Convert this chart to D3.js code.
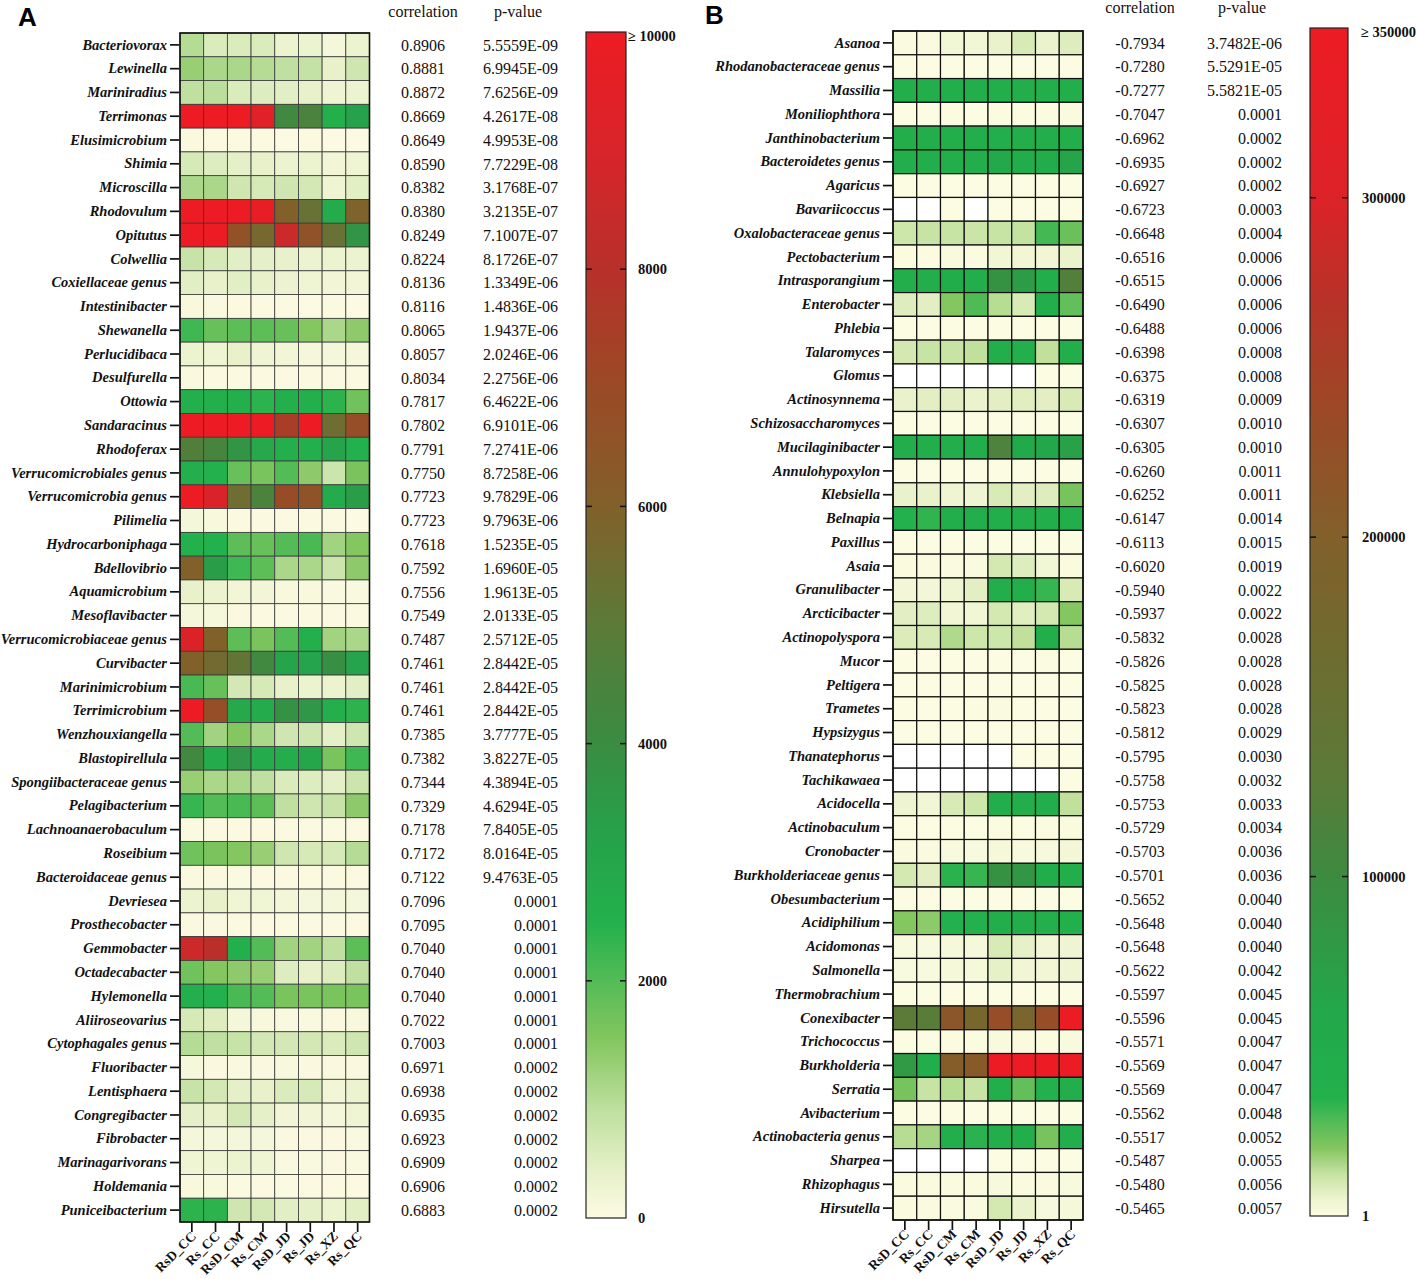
<!DOCTYPE html>
<html>
<head>
<meta charset="utf-8">
<script src="https://cdn.jsdelivr.net/npm/d3@7"></script>
<style>
body { margin: 0; background: #fff; }
</style>
</head>
<body>
<div id="chart"></div>
<script>
// sample columns (same for both panels)
const samples = ["RsD_CC", "Rs_CC", "RsD_CM", "Rs_CM", "RsD_JD", "Rs_JD", "Rs_XZ", "Rs_QC"];

// ---- panel A : positively correlated taxa ----
const taxaA = ["Bacteriovorax","Lewinella","Mariniradius","Terrimonas","Elusimicrobium","Shimia","Microscilla","Rhodovulum","Opitutus","Colwellia","Coxiellaceae genus","Intestinibacter","Shewanella","Perlucidibaca","Desulfurella","Ottowia","Sandaracinus","Rhodoferax","Verrucomicrobiales genus","Verrucomicrobia genus","Pilimelia","Hydrocarboniphaga","Bdellovibrio","Aquamicrobium","Mesoflavibacter","Verrucomicrobiaceae genus","Curvibacter","Marinimicrobium","Terrimicrobium","Wenzhouxiangella","Blastopirellula","Spongiibacteraceae genus","Pelagibacterium","Lachnoanaerobaculum","Roseibium","Bacteroidaceae genus","Devriesea","Prosthecobacter","Gemmobacter","Octadecabacter","Hylemonella","Aliiroseovarius","Cytophagales genus","Fluoribacter","Lentisphaera","Congregibacter","Fibrobacter","Marinagarivorans","Holdemania","Puniceibacterium"];
const corrA = [0.8906,0.8881,0.8872,0.8669,0.8649,0.8590,0.8382,0.8380,0.8249,0.8224,0.8136,0.8116,0.8065,0.8057,0.8034,0.7817,0.7802,0.7791,0.7750,0.7723,0.7723,0.7618,0.7592,0.7556,0.7549,0.7487,0.7461,0.7461,0.7461,0.7385,0.7382,0.7344,0.7329,0.7178,0.7172,0.7122,0.7096,0.7095,0.7040,0.7040,0.7040,0.7022,0.7003,0.6971,0.6938,0.6935,0.6923,0.6909,0.6906,0.6883];
const pvalA = ["5.5559E-09","6.9945E-09","7.6256E-09","4.2617E-08","4.9953E-08","7.7229E-08","3.1768E-07","3.2135E-07","7.1007E-07","8.1726E-07","1.3349E-06","1.4836E-06","1.9437E-06","2.0246E-06","2.2756E-06","6.4622E-06","6.9101E-06","7.2741E-06","8.7258E-06","9.7829E-06","9.7963E-06","1.5235E-05","1.6960E-05","1.9613E-05","2.0133E-05","2.5712E-05","2.8442E-05","2.8442E-05","2.8442E-05","3.7777E-05","3.8227E-05","4.3894E-05","4.6294E-05","7.8405E-05","8.0164E-05","9.4763E-05","0.0001","0.0001","0.0001","0.0001","0.0001","0.0001","0.0001","0.0002","0.0002","0.0002","0.0002","0.0002","0.0002","0.0002"];
const valuesA = [
  [1000,550,550,550,300,300,150,300],
  [1300,1100,1100,1000,900,850,350,700],
  [900,950,550,500,450,350,250,300],
  [10000,10000,10000,9400,4200,4500,2600,3200],
  [60,30,30,30,20,30,20,20],
  [600,500,400,350,300,300,200,250],
  [1100,1100,700,600,700,650,250,450],
  [10000,10000,10000,9800,6000,5300,2800,5900],
  [10000,10000,6700,5700,8600,6600,5300,3700],
  [800,600,450,400,350,300,300,300],
  [450,350,450,350,280,250,200,200],
  [100,80,30,30,40,20,30,20],
  [2200,1800,1900,1900,1800,1500,1100,1400],
  [300,250,350,250,200,150,150,150],
  [60,40,40,30,30,30,30,30],
  [2600,2600,2600,2400,2600,2600,2400,1700],
  [10000,10000,10000,10000,7500,10000,5500,6800],
  [4700,4400,3700,2900,2600,2600,3100,2500],
  [2600,2500,1800,1600,2000,1400,750,1600],
  [10000,9100,5500,4500,6900,6600,2800,3400],
  [150,100,40,30,30,30,30,20],
  [2500,2500,1900,1800,2000,2100,1200,1500],
  [6000,3400,2200,1900,1100,1100,750,1400],
  [350,300,200,200,100,100,80,80],
  [150,120,60,40,40,40,30,30],
  [9200,6000,1900,1600,2000,2600,1200,1100],
  [6000,5600,5200,4200,3100,3100,3900,3100],
  [2100,1800,650,600,350,300,300,450],
  [10000,6800,2900,2800,3800,3600,2600,2400],
  [2000,1200,1500,1100,700,700,400,700],
  [4200,2800,3600,2800,2700,3000,1600,2200],
  [1300,1100,1100,900,550,500,400,750],
  [2300,2000,2100,1900,900,700,800,1400],
  [50,40,40,30,30,30,30,30],
  [1700,1600,1500,1300,700,600,600,1000],
  [80,60,50,40,30,30,30,40],
  [300,350,220,220,180,150,150,150],
  [60,60,40,30,40,30,30,30],
  [8600,8100,2600,2000,1200,1200,900,1900],
  [1700,1500,1400,1300,500,350,500,900],
  [2600,2500,2100,2000,1600,1600,1600,1600],
  [600,500,150,100,80,80,60,100],
  [1000,900,800,650,650,650,550,700],
  [120,60,80,60,100,60,60,60],
  [800,650,400,350,550,600,200,300],
  [400,350,650,400,200,200,150,250],
  [150,150,150,150,60,60,60,80],
  [250,250,300,250,80,80,60,80],
  [100,100,40,40,40,40,40,40],
  [2400,2400,700,650,450,400,300,450]
];
const legendTicksA = [0, 2000, 4000, 6000, 8000, 10000];
const legendLabelsA = ["0", "2000", "4000", "6000", "8000", "\u2265 10000"];

// ---- panel B : negatively correlated taxa (null = no reads, drawn white) ----
const taxaB = ["Asanoa","Rhodanobacteraceae genus","Massilia","Moniliophthora","Janthinobacterium","Bacteroidetes genus","Agaricus","Bavariicoccus","Oxalobacteraceae genus","Pectobacterium","Intrasporangium","Enterobacter","Phlebia","Talaromyces","Glomus","Actinosynnema","Schizosaccharomyces","Mucilaginibacter","Annulohypoxylon","Klebsiella","Belnapia","Paxillus","Asaia","Granulibacter","Arcticibacter","Actinopolyspora","Mucor","Peltigera","Trametes","Hypsizygus","Thanatephorus","Tachikawaea","Acidocella","Actinobaculum","Cronobacter","Burkholderiaceae genus","Obesumbacterium","Acidiphilium","Acidomonas","Salmonella","Thermobrachium","Conexibacter","Trichococcus","Burkholderia","Serratia","Avibacterium","Actinobacteria genus","Sharpea","Rhizophagus","Hirsutella"];
const corrB = [-0.7934,-0.7280,-0.7277,-0.7047,-0.6962,-0.6935,-0.6927,-0.6723,-0.6648,-0.6516,-0.6515,-0.6490,-0.6488,-0.6398,-0.6375,-0.6319,-0.6307,-0.6305,-0.6260,-0.6252,-0.6147,-0.6113,-0.6020,-0.5940,-0.5937,-0.5832,-0.5826,-0.5825,-0.5823,-0.5812,-0.5795,-0.5758,-0.5753,-0.5729,-0.5703,-0.5701,-0.5652,-0.5648,-0.5648,-0.5622,-0.5597,-0.5596,-0.5571,-0.5569,-0.5569,-0.5562,-0.5517,-0.5487,-0.5480,-0.5465];
const pvalB = ["3.7482E-06","5.5291E-05","5.5821E-05","0.0001","0.0002","0.0002","0.0002","0.0003","0.0004","0.0006","0.0006","0.0006","0.0006","0.0008","0.0008","0.0009","0.0010","0.0010","0.0011","0.0011","0.0014","0.0015","0.0019","0.0022","0.0022","0.0028","0.0028","0.0028","0.0028","0.0029","0.0030","0.0032","0.0033","0.0034","0.0036","0.0036","0.0040","0.0040","0.0040","0.0042","0.0045","0.0045","0.0047","0.0047","0.0047","0.0048","0.0052","0.0055","0.0056","0.0057"];
const valuesB = [
  [1000,1000,4000,4000,6000,9000,5500,8000],
  [300,300,300,300,300,300,300,300],
  [42000,42000,42000,42000,44000,42000,42000,42000],
  [300,300,500,300,800,500,500,1000],
  [42000,42000,42000,42000,42000,42000,42000,43000],
  [44000,44000,44000,44000,55000,45000,45000,65000],
  [300,300,300,300,300,300,300,300],
  [null,null,300,null,300,300,300,300],
  [11000,12000,12000,11500,12000,12500,30000,24000],
  [500,500,1500,500,4000,3500,3500,5500],
  [44000,43000,46000,44000,90000,75000,44000,120000],
  [8000,7000,20000,28000,14000,9000,42000,25000],
  [300,300,300,300,300,300,300,300],
  [10000,12000,12000,13000,42000,40000,13000,44000],
  [null,null,null,null,null,null,300,300],
  [6000,7000,7000,5500,7000,7500,7000,9000],
  [300,300,300,300,300,300,300,300],
  [44000,43000,42000,42000,115000,55000,60000,70000],
  [300,300,300,300,300,300,300,300],
  [6000,6000,4500,4500,9000,7000,8000,22000],
  [36000,33000,42000,42000,42000,42000,42000,42000],
  [300,300,300,300,300,300,300,300],
  [1000,1000,1000,1000,10000,8000,4000,1000],
  [3000,3000,4500,7000,43000,42000,32000,9000],
  [7000,8000,3500,4000,10000,7500,10000,20000],
  [8500,9000,15000,11000,11000,13000,43000,14000],
  [300,300,300,300,300,300,800,300],
  [300,300,300,300,300,300,300,300],
  [300,300,300,800,1000,300,300,300],
  [300,300,300,300,300,300,300,300],
  [null,null,null,null,null,300,300,300],
  [null,null,null,null,null,null,null,300],
  [5000,4000,9000,11000,42000,42000,43000,13000],
  [300,300,300,300,800,300,800,1000],
  [1000,1000,1500,1500,2500,1500,2000,3000],
  [10000,7000,34000,32000,90000,85000,45000,44000],
  [300,300,300,300,300,300,300,300],
  [20000,19000,36000,36000,42000,42000,40000,38000],
  [1500,1500,2500,2500,9000,6500,3500,4500],
  [1500,1500,2500,2500,6500,3500,3500,4500],
  [300,300,300,300,300,300,300,300],
  [130000,125000,215000,180000,230000,185000,230000,350000],
  [300,300,500,500,1500,1000,800,1500],
  [80000,44000,205000,210000,350000,350000,350000,350000],
  [22000,12000,14000,12000,42000,25000,36000,43000],
  [300,300,300,300,300,300,300,300],
  [14000,16000,42000,34000,42000,42000,22000,42000],
  [null,null,null,null,300,300,300,300],
  [1000,1000,1000,1000,2000,1000,1000,1500],
  [1000,1000,1000,1000,10000,6000,2000,2500]
];
const legendTicksB = [1, 100000, 200000, 300000, 350000];
const legendLabelsB = ["1", "100000", "200000", "300000", "\u2265 350000"];

// colour ramps (cream -> green -> brown -> red)
const colorA = d3.scaleLinear()
  .domain([0, 400, 900, 1500, 2500, 3300, 4000, 5000, 6000, 7000, 8000, 9000, 10000])
  .range(["#fdfbe3", "#e6f0c8", "#bfe0a0", "#84c660", "#22b14c", "#27a04a", "#3a8c42", "#5b7a38", "#82602a", "#9a4a26", "#b8302a", "#d8242a", "#ed1c24"])
  .clamp(true);
const colorB = d3.scaleLinear()
  .domain([1, 5000, 12000, 20000, 35000, 60000, 100000, 130000, 165000, 200000, 235000, 270000, 300000, 350000])
  .range(["#fcfce2", "#eef4d0", "#c8e4a4", "#84c660", "#22b14c", "#22a84a", "#3d8b40", "#5c7a38", "#6e6c30", "#82602a", "#9a4a26", "#b83228", "#dc2228", "#ed1c24"])
  .clamp(true);

const SERIF = "'Liberation Serif', 'Times New Roman', serif";

const svg = d3.select("#chart").append("svg")
  .attr("width", 1417)
  .attr("height", 1279)
  .style("font-family", SERIF);
const defs = svg.append("defs");

function drawPanel(p) {
  const g = svg.append("g");
  const x = d3.scaleBand().domain(samples).range([p.x0, p.x1]);
  const y = d3.scaleBand().domain(p.taxa).range([p.y0, p.y1]);

  // cells
  const cells = p.taxa.flatMap((t, i) => samples.map((s, j) => ({ t: t, s: s, v: p.values[i][j] })));
  g.append("g").selectAll("rect")
    .data(cells)
    .join("rect")
    .attr("x", d => x(d.s))
    .attr("y", d => y(d.t))
    .attr("width", x.bandwidth())
    .attr("height", y.bandwidth())
    .attr("fill", d => d.v == null ? "#ffffff" : p.color(d.v))
    .attr("stroke", p.grid)
    .attr("stroke-width", p.gridW);
  g.append("rect")
    .attr("x", p.x0).attr("y", p.y0)
    .attr("width", p.x1 - p.x0).attr("height", p.y1 - p.y0)
    .attr("fill", "none").attr("stroke", "#111").attr("stroke-width", 1.6);

  // taxon axis
  const ya = g.append("g")
    .attr("transform", `translate(${p.x0 - 1},0)`)
    .call(d3.axisLeft(y).tickSize(9).tickPadding(3));
  ya.select(".domain").remove();
  ya.selectAll(".tick line").attr("stroke", "#111").attr("stroke-width", 1.7);
  ya.selectAll(".tick text")
    .style("font-family", SERIF)
    .attr("font-size", 14.5)
    .attr("font-weight", "bold")
    .attr("font-style", "italic")
    .attr("fill", "#111");

  // sample axis
  const xa = g.append("g")
    .attr("transform", `translate(0,${p.y1 + 1})`)
    .call(d3.axisBottom(x).tickSize(9));
  xa.select(".domain").remove();
  xa.selectAll(".tick line").attr("stroke", "#111").attr("stroke-width", 1.7);
  xa.selectAll(".tick text")
    .attr("x", 0).attr("y", 0).attr("dy", 0)
    .attr("transform", "translate(5,14) rotate(-45)")
    .attr("text-anchor", "end")
    .style("font-family", SERIF)
    .attr("font-size", 13.5)
    .attr("font-weight", "bold")
    .attr("fill", "#111");

  // correlation / p-value columns
  g.append("text").attr("x", p.corrX).attr("y", p.headY)
    .attr("text-anchor", "middle").attr("font-size", 16).attr("fill", "#111").text("correlation");
  g.append("text").attr("x", p.pHeadX).attr("y", p.headY)
    .attr("text-anchor", "middle").attr("font-size", 16).attr("fill", "#111").text("p-value");
  g.append("g").selectAll("text")
    .data(p.taxa)
    .join("text")
    .attr("x", p.corrX)
    .attr("y", d => y(d) + y.bandwidth() / 2)
    .attr("dy", "0.36em")
    .attr("text-anchor", "middle")
    .attr("font-size", 16)
    .attr("fill", "#111")
    .text((d, i) => p.corr[i].toFixed(4));
  g.append("g").selectAll("text")
    .data(p.taxa)
    .join("text")
    .attr("x", p.pX)
    .attr("y", d => y(d) + y.bandwidth() / 2)
    .attr("dy", "0.36em")
    .attr("text-anchor", "end")
    .attr("font-size", 16)
    .attr("fill", "#111")
    .text((d, i) => p.pval[i]);

  // colour legend
  const L = p.legend;
  const ls = d3.scaleLinear().domain([L.min, L.max]).range([L.y1, L.y0]);
  const grad = defs.append("linearGradient").attr("id", p.id + "grad")
    .attr("x1", 0).attr("y1", 1).attr("x2", 0).attr("y2", 0);
  grad.selectAll("stop")
    .data(p.color.domain())
    .join("stop")
    .attr("offset", d => (d - L.min) / (L.max - L.min))
    .attr("stop-color", d => p.color(d));
  g.append("rect")
    .attr("x", L.x).attr("y", L.y0)
    .attr("width", L.w).attr("height", L.y1 - L.y0)
    .attr("fill", `url(#${p.id}grad)`)
    .attr("stroke", "#222").attr("stroke-width", 1.2);
  const inner = L.ticks.slice(1, -1);
  g.append("g").selectAll("line")
    .data(inner.flatMap(v => [[L.x, v], [L.x + L.w - 6, v]]))
    .join("line")
    .attr("x1", d => d[0]).attr("x2", d => d[0] + 6)
    .attr("y1", d => ls(d[1])).attr("y2", d => ls(d[1]))
    .attr("stroke", "#111").attr("stroke-width", 1.5);
  const la = g.append("g")
    .attr("transform", `translate(${L.x + L.w},0)`)
    .call(d3.axisRight(ls).tickValues(L.ticks).tickSize(0).tickPadding(L.pad)
      .tickFormat((d, i) => L.labels[i]));
  la.select(".domain").remove();
  la.selectAll(".tick text")
    .style("font-family", SERIF)
    .attr("font-size", 14.5)
    .attr("font-weight", "bold")
    .attr("fill", "#111");
  la.selectAll(".tick text").filter((d, i) => i === L.ticks.length - 1)
    .attr("x", L.topPad).attr("dy", "0.6em");

  // panel letter
  svg.append("text").attr("x", p.letterX).attr("y", p.letterY)
    .style("font-family", "'Liberation Sans', Arial, sans-serif")
    .attr("font-weight", "bold").attr("font-size", 26).attr("fill", "#000")
    .text(p.id);
}

drawPanel({
  id: "A", taxa: taxaA, values: valuesA, corr: corrA, pval: pvalA, color: colorA,
  x0: 180, x1: 369.5, y0: 33, y1: 1222, grid: "#3a3a3a", gridW: 0.8,
  corrX: 423, pX: 558, pHeadX: 518, headY: 17,
  legend: { x: 586, w: 40, y0: 32, y1: 1218, min: 0, max: 10000,
            ticks: legendTicksA, labels: legendLabelsA, pad: 12, topPad: 2 },
  letterX: 18, letterY: 26
});

drawPanel({
  id: "B", taxa: taxaB, values: valuesB, corr: corrB, pval: pvalB, color: colorB,
  x0: 893, x1: 1083, y0: 31, y1: 1220, grid: "#111", gridW: 1.2,
  corrX: 1140, pX: 1282, pHeadX: 1242, headY: 13,
  legend: { x: 1310, w: 38, y0: 28, y1: 1216, min: 1, max: 350000,
            ticks: legendTicksB, labels: legendLabelsB, pad: 14, topPad: 13 },
  letterX: 705, letterY: 24
});
</script>
</body>
</html>
